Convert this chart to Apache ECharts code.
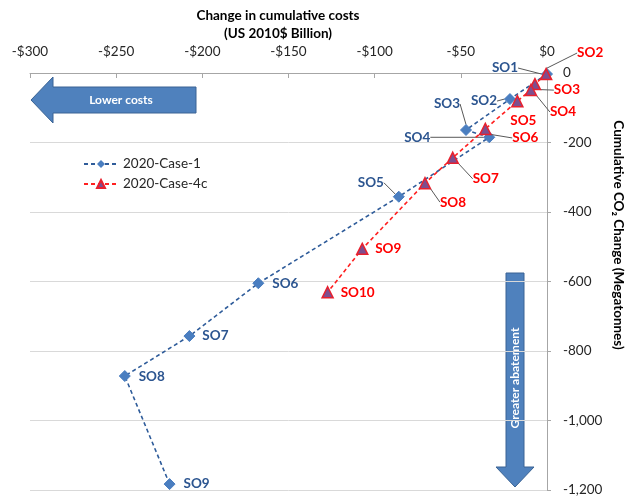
<!DOCTYPE html>
<html>
<head>
<meta charset="utf-8">
<script src="https://cdn.jsdelivr.net/npm/echarts@6/dist/echarts.min.js"></script>
<style>
html,body{margin:0;padding:0;background:#fff;}
#chart{width:628px;height:502px;}
</style>
</head>
<body>
<div id="chart"></div>
<script>
// ---- data ----
const xTickValues = [-300, -250, -200, -150, -100, -50, 0];
const yTickValues = [-1200, -1000, -800, -600, -400, -200, 0];

const case1Names = ['SO1', 'SO2', 'SO3', 'SO4', 'SO5', 'SO6', 'SO7', 'SO8', 'SO9'];
const case1Cost = [0, -21.5, -47, -33.5, -86, -167.5, -207.5, -245, -219];
const case1CO2 = [-3, -75, -164, -185, -356, -605, -757, -872, -1183];

const case4cNames = ['SO2', 'SO3', 'SO4', 'SO5', 'SO6', 'SO7', 'SO8', 'SO9', 'SO10'];
const case4cCost = [-0.5, -7, -9.3, -17.2, -35.8, -54.7, -70.8, -107.2, -127.3];
const case4cCO2 = [-3, -32, -49, -81, -161, -244, -317, -506, -631];

// ---- label styling (offsets in px from the point) ----
const case1LabelOffsets = [[-42,-6],[-26,2],[-19,-26],[-72,0],[-28,-14],[27,0],[26,0],[27,1],[27,0]];
const case1Leader = [true,true,true,true,true,false,false,false,false];
const case4cLabelOffsets = [[44,-21],[32,6],[32,22],[6,19],[40,9],[33,21],[28,19],[26,0],[30,0]];
const case4cLeader = [true,true,true,false,true,true,true,false,false];

const FONT = 'Lato, "Open Sans", sans-serif';
const BLUE_TXT = '#2C5590';
const RED_TXT = '#FF0000';

function buildData(names, xs, ys, leaders) {
  return names.map((n, i) => ({
    name: n,
    value: [xs[i], ys[i]],
    labelLine: { show: leaders[i] }
  }));
}

function moneyFmt(v) {
  return v < 0 ? '-$' + Math.abs(v) : '$' + v;
}
function numFmt(v) {
  const s = Math.abs(v).toLocaleString('en-US');
  return (v < 0 ? '-' : '') + s;
}

const chart = echarts.init(document.getElementById('chart'), null, { renderer: 'canvas' });

const option = {
  animation: false,
  backgroundColor: '#ffffff',
  textStyle: { fontFamily: FONT },
  grid: { left: 30, right: 81, top: 73, bottom: 12, containLabel: false },
  xAxis: {
    type: 'value',
    position: 'top',
    min: -300, max: 0, interval: 50,
    axisLine: { show: true, onZero: false, lineStyle: { color: '#A6A6A6', width: 1 } },
    axisTick: { show: true, inside: true, length: 5, lineStyle: { color: '#A6A6A6' } },
    axisLabel: { formatter: moneyFmt, color: '#262626', fontSize: 13.5, fontFamily: FONT, margin: 14 },
    splitLine: { show: false }
  },
  yAxis: {
    type: 'value',
    position: 'right',
    min: -1200, max: 0, interval: 200,
    axisLine: { show: true, onZero: false, lineStyle: { color: '#A6A6A6', width: 1 } },
    axisTick: { show: true, length: 4, lineStyle: { color: '#A6A6A6' } },
    axisLabel: { formatter: numFmt, color: '#262626', fontSize: 13.5, fontFamily: FONT, margin: 16 },
    splitLine: { show: true, lineStyle: { color: '#D9D9D9', width: 1 } }
  },
  legend: {
    orient: 'vertical',
    left: 78, top: 152,
    itemWidth: 34, itemHeight: 10,
    itemGap: 6,
    textStyle: { color: '#262626', fontSize: 13.5, fontFamily: FONT },
    data: ['2020-Case-1', '2020-Case-4c']
  },
  series: [
    {
      name: '2020-Case-1',
      type: 'line',
      data: buildData(case1Names, case1Cost, case1CO2, case1Leader),
      symbol: 'diamond',
      symbolSize: 11,
      itemStyle: { color: '#4A7EC0', borderColor: '#4A7EC0' },
      lineStyle: { color: '#2F5C9A', width: 1.6, type: [4, 3] },
      label: {
        show: true, position: 'inside', formatter: '{b}',
        color: BLUE_TXT, fontSize: 13.5, fontWeight: 'bold', fontFamily: FONT
      },
      labelLine: { show: true, lineStyle: { color: '#595959', width: 1 } },
      labelLayout: function (p) {
        const o = case1LabelOffsets[p.dataIndex];
        return { dx: o[0], dy: o[1] };
      },
      z: 3
    },
    {
      name: '2020-Case-4c',
      type: 'line',
      data: buildData(case4cNames, case4cCost, case4cCO2, case4cLeader),
      symbol: 'triangle',
      symbolSize: 11,
      itemStyle: { color: '#7E4E8E', borderColor: '#E8202E', borderWidth: 1.5 },
      lineStyle: { color: '#FF2020', width: 1.6, type: [4, 3] },
      label: {
        show: true, position: 'inside', formatter: '{b}',
        color: RED_TXT, fontSize: 13.5, fontWeight: 'bold', fontFamily: FONT
      },
      labelLine: { show: true, lineStyle: { color: '#595959', width: 1 } },
      labelLayout: function (p) {
        const o = case4cLabelOffsets[p.dataIndex];
        return { dx: o[0], dy: o[1] };
      },
      z: 4
    }
  ],
  graphic: [
    // axis titles
    {
      type: 'text',
      style: {
        text: 'Change in cumulative costs\n(US 2010$ Billion)',
        x: 278, y: 7, align: 'center', verticalAlign: 'top',
        font: 'bold 13.5px ' + FONT, fill: '#000', lineHeight: 18
      }
    },
    {
      type: 'text',
      x: 618, y: 235,
      rotation: -Math.PI / 2,
      style: {
        text: 'Cumulative CO₂ Change (Megatonnes)',
        align: 'center', verticalAlign: 'middle',
        font: 'bold 13.5px ' + FONT, fill: '#000'
      }
    },
    // "Lower costs" arrow
    {
      type: 'polygon',
      shape: { points: [[31,100],[53,77],[53,87],[196,87],[196,113],[53,113],[53,123]] },
      style: { fill: '#4F81BD', stroke: '#3A6394', lineWidth: 1 }
    },
    {
      type: 'text', x: 121, y: 100,
      style: { text: 'Lower costs', align: 'center', verticalAlign: 'middle',
        font: 'bold 12px ' + FONT, fill: '#fff' }
    },
    // "Greater abatement" arrow
    {
      type: 'polygon',
      shape: { points: [[506,273],[524,273],[524,467],[534,467],[515,487],[496,467],[506,467]] },
      style: { fill: '#4F81BD', stroke: '#3A6394', lineWidth: 1 }
    },
    {
      type: 'text', x: 515, y: 378, rotation: Math.PI / 2,
      style: { text: 'Greater abatement', align: 'center', verticalAlign: 'middle',
        font: 'bold 12px ' + FONT, fill: '#fff' }
    }
  ]
};

chart.setOption(option);
</script>
</body>
</html>
